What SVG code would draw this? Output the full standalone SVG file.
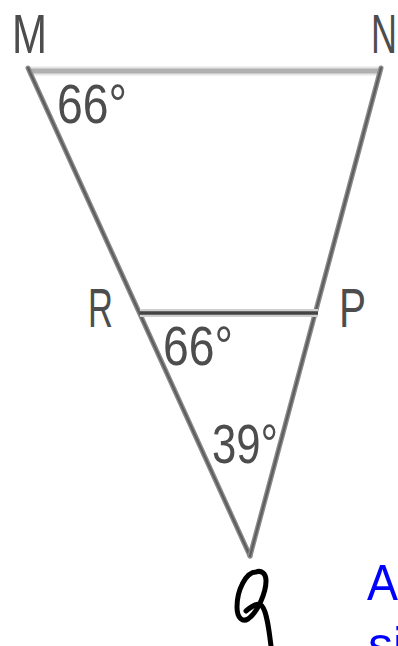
<svg xmlns="http://www.w3.org/2000/svg" width="398" height="646" viewBox="0 0 398 646">
<style>
.lbl{font-family:"Liberation Sans",Arial,sans-serif;font-size:55px;fill:#4d4d4d;}
.side{stroke:#8a8a8a;stroke-width:5;fill:none;stroke-linecap:round;}
.sidec{stroke:#5e5e5e;stroke-width:2.2;fill:none;stroke-linecap:round;}
.blue{font-family:"Liberation Sans",Arial,sans-serif;font-size:50px;fill:#0000ff;}
</style>
<rect width="398" height="646" fill="#ffffff"/>
<g id="lines">
<line x1="28" y1="71" x2="381" y2="71" stroke="#e6e6e6" stroke-width="9"/>
<line x1="28" y1="71" x2="381" y2="71" stroke="#b0b0b0" stroke-width="5"/>
<line class="side" x1="28" y1="68" x2="250" y2="556"/>
<line class="sidec" x1="28" y1="68" x2="250" y2="556"/>
<line class="side" x1="381" y1="68" x2="250" y2="556"/>
<line class="sidec" x1="381" y1="68" x2="250" y2="556"/>
<line x1="140" y1="313" x2="318" y2="313" stroke="#cfcfcf" stroke-width="8"/>
<line x1="140" y1="313" x2="318" y2="313" stroke="#444444" stroke-width="3.5"/>
</g>
<g id="M"><text class="lbl" x="12" y="53" textLength="35" lengthAdjust="spacingAndGlyphs">M</text></g>
<g id="N"><text class="lbl" x="371" y="53" textLength="26" lengthAdjust="spacingAndGlyphs">N</text></g>
<g id="R"><text class="lbl" x="88" y="327" textLength="25" lengthAdjust="spacingAndGlyphs">R</text></g>
<g id="P"><text class="lbl" x="339" y="327" textLength="27" lengthAdjust="spacingAndGlyphs">P</text></g>
<g id="angleM"><text class="lbl" x="57" y="123" textLength="70" lengthAdjust="spacingAndGlyphs">66°</text></g>
<g id="angleR"><text class="lbl" x="163" y="365" textLength="70" lengthAdjust="spacingAndGlyphs">66°</text></g>
<g id="angleQ"><text class="lbl" x="212" y="463" textLength="66" lengthAdjust="spacingAndGlyphs">39°</text></g>
<g id="Q" fill="none" stroke="#000000" stroke-width="5" stroke-linecap="round" stroke-linejoin="round">
<path d="M256,572 C246,572 237,590 237,607 C237,619 243,622 248,619 C258,612 266,592 266,581 C266,573 261,570 256,572 Z"/>
<path d="M246,611 C252,606 258,602 262,606 C267,612 269,630 271,646"/>
</g>
<g id="note">
<text class="blue" x="367" y="600" textLength="31" lengthAdjust="spacingAndGlyphs">A</text>
<text class="blue" x="368" y="662">si</text>
</g>
</svg>
